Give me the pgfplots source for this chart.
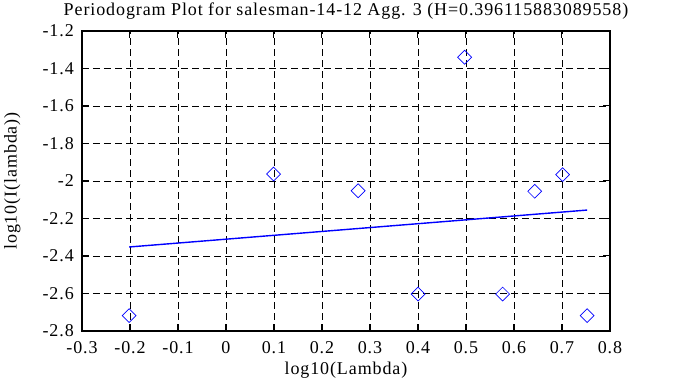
\documentclass[border=0pt]{standalone}
\usepackage{fontspec}
\setmainfont{Liberation Serif}[LetterSpace=5]
\usepackage{pgfplots}
\pgfplotsset{compat=1.18}
\begin{document}
\fontsize{18pt}{21pt}\selectfont
\begin{tikzpicture}
\useasboundingbox (0,0) rectangle (673pt,387pt);
\begin{axis}[
  at={(82pt,56pt)}, anchor=south west,
  scale only axis, width=528pt, height=300pt,
  font=\fontsize{18pt}{21pt}\selectfont,
  xmin=-0.3, xmax=0.8, ymin=-2.8, ymax=-1.2,
  xtick={-0.3,-0.2,-0.1,0,0.1,0.2,0.3,0.4,0.5,0.6,0.7,0.8},
  xticklabels={-0.3,-0.2,-0.1,0,0.1,0.2,0.3,0.4,0.5,0.6,0.7,0.8},
  ytick={-2.8,-2.6,-2.4,-2.2,-2,-1.8,-1.6,-1.4,-1.2},
  yticklabels={-2.8,-2.6,-2.4,-2.2,-2,-1.8,-1.6,-1.4,-1.2},
  tick align=inside, major tick length=7pt,
  tick style={black, line width=1pt},
  axis line style={line width=2pt},
  grid=major, grid style={black, line width=0.8pt, dash pattern=on 7pt off 4pt},
  xlabel={log10(Lambda)}, ylabel={log10(I(lambda))},
  title={Periodogram Plot for salesman-14-12 Agg. 3 (H=0.396115883089558)},
  title style={yshift=-1pt},
  xticklabel style={yshift=-4pt},
  xlabel style={yshift=4pt},
  yticklabel style={xshift=-2pt},
  ylabel style={yshift=10pt},
]
\addplot[only marks, mark=square, color=blue, mark size=4.9pt, mark options={rotate=45, line width=0.7pt}] coordinates {
(-0.2018,-2.718) (0.0992,-1.963) (0.2753,-2.052) (0.4002,-2.603) (0.4971,-1.340)
(0.5763,-2.603) (0.6432,-2.055) (0.7012,-1.966) (0.7524,-2.718)
};
\addplot[blue, line width=1.4pt] coordinates {(-0.2018,-2.352) (0.7524,-2.155)};
\end{axis}
\end{tikzpicture}
\end{document}
